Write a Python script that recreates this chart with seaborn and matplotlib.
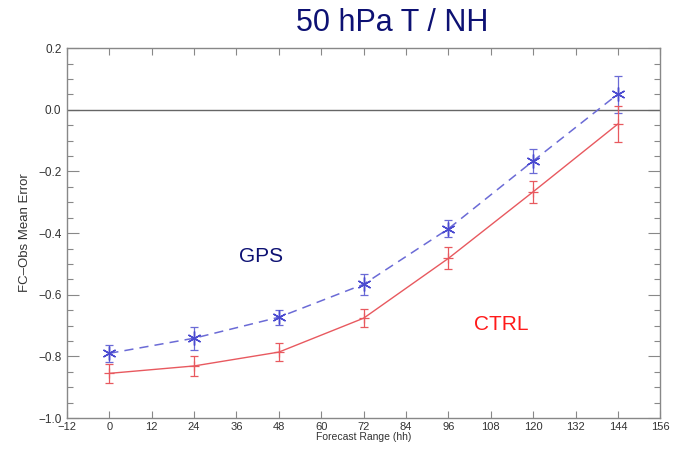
import numpy as np
import pandas as pd
import seaborn as sns
import matplotlib
matplotlib.use("Agg")
from matplotlib import pyplot as plt
from matplotlib.ticker import MultipleLocator

# forecast range (hh)
fc_range = [0, 24, 48, 72, 96, 120, 144]
# mean error and error bar half-widths
gps_err = [-0.790, -0.741, -0.673, -0.566, -0.386, -0.166, 0.051]
gps_bar = [0.027, 0.037, 0.025, 0.034, 0.028, 0.038, 0.060]
ctrl_err = [-0.855, -0.831, -0.786, -0.676, -0.482, -0.266, -0.046]
ctrl_bar = [0.030, 0.033, 0.030, 0.030, 0.036, 0.036, 0.057]

x_ticks = list(range(-12, 157, 12))
y_ticks = [-1.0, -0.8, -0.6, -0.4, -0.2, 0.0, 0.2]

sns.set_style("ticks")
plt.rcParams['font.family'] = ['Liberation Sans', 'DejaVu Sans']

df = pd.DataFrame({
    'hh': fc_range * 2,
    'err': gps_err + ctrl_err,
    'run': ['GPS'] * len(fc_range) + ['CTRL'] * len(fc_range),
})

gps_col = '#6b6bd6'
ctrl_col = '#e8595f'

fig = plt.figure(figsize=(6.8, 4.5), dpi=100)
ax = fig.add_axes([0.0985, 0.071, 0.8725, 0.822])

ax.axhline(0.0, color='#666666', lw=1.0, zorder=1)

sns.lineplot(data=df[df.run == 'GPS'], x='hh', y='err', ax=ax, color=gps_col,
             lw=1.1, zorder=3)
sns.lineplot(data=df[df.run == 'CTRL'], x='hh', y='err', ax=ax, color=ctrl_col,
             lw=1.0, zorder=3)
ax.lines[-2].set_dashes((6, 4))

ax.errorbar(fc_range, gps_err, yerr=gps_bar, fmt='none', ecolor=gps_col,
            elinewidth=0.9, capsize=3, capthick=0.9, zorder=4)
ax.errorbar(fc_range, ctrl_err, yerr=ctrl_bar, fmt='none', ecolor=ctrl_col,
            elinewidth=0.9, capsize=3, capthick=0.9, zorder=4)
ax.plot(fc_range, gps_err, ls='none', marker=(6, 2, 0), ms=10, mew=1.0,
        color='#4a4ad0', zorder=5)
ax.plot(fc_range, ctrl_err, ls='none', marker='+', ms=7, mew=0.9,
        color=ctrl_col, zorder=5)

ax.set_xlim(-12, 156)
ax.set_ylim(-1.0, 0.2)
ax.set_xticks(x_ticks)
ax.set_xticklabels([('\u2212%d' % -v) if v < 0 else str(v) for v in x_ticks])
ax.set_yticks(y_ticks)
ax.set_yticklabels([('\u2212%.1f' % -v) if v < 0 else '%.1f' % v for v in y_ticks])
ax.yaxis.set_minor_locator(MultipleLocator(0.05))
ax.tick_params(which='both', direction='in', top=True, right=True,
               colors='#888888', labelcolor='#333333')
ax.tick_params(axis='y', which='major', length=8.5, width=0.8, labelsize=8.5, pad=4)
ax.tick_params(axis='y', which='minor', length=4.5, width=0.8)
ax.tick_params(axis='x', which='major', length=5, width=0.8, labelsize=8, pad=3)
for s in ax.spines.values():
    s.set_color('#888888')
    s.set_linewidth(1.0)

ax.set_xlabel('Forecast Range (hh)', fontsize=7.5, color='#333333', labelpad=0)
ax.set_ylabel('FC\u2013Obs Mean Error', fontsize=9.5, color='#333333', labelpad=5)

ax.text(43, -0.477, 'GPS', fontsize=15, color='#0d1173', ha='center', va='center')
ax.text(111, -0.698, 'CTRL', fontsize=15, color='#ff1a1a', ha='center', va='center')
fig.text(0.577, 0.948, '50 hPa T / NH', fontsize=22, color='#0d1173',
         ha='center', va='center')

fig.savefig('out.png', dpi=100)
